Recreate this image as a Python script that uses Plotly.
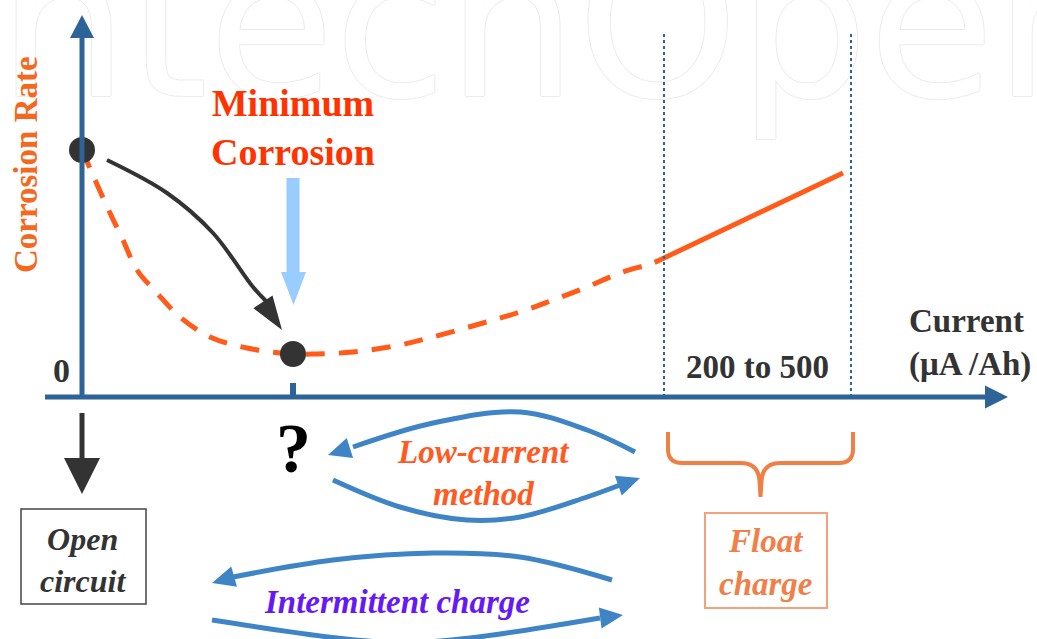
import numpy as np
import plotly.graph_objects as go

# ---------------- data (diagram units; origin = crossing of the two axes) ----------------
# corrosion-rate curve (dashed part) and float-charge segment (solid part)
curve_x = [0, 10, 28, 41, 55, 75, 98, 128, 165, 211, 235, 271, 318, 351, 401, 438, 471, 505, 538, 571, 582]
curve_y = [247, 224, 184, 157, 127, 104, 80, 60, 49, 43, 43, 45, 52, 60, 74, 85, 97, 110, 124, 134, 139]
float_x = [582, 761]
float_y = [139, 224]
# open-circuit state and minimum-corrosion state
state_x = [0, 211]
state_y = [247, 43]
# float charge current window (200 to 500 uA/Ah)
float_range = [582, 769]
min_current = 211

tick_labels = ["0", "?", "200 to 500"]
axis_titles = ["Corrosion Rate", "Current", "(μA /Ah)"]

# curved arrows: (points along the shaft, tip)
move_x = [25, 85, 131, 171, 185]
move_y = [237, 204, 164, 110, 95]
move_tip = (200, 67)

low_up_x = [553, 505, 438, 351, 271]
low_up_y = [-55, -33, -15, -26, -50]
low_up_tip = (246, -58)
low_dn_x = [251, 318, 385, 438, 505, 538]
low_dn_y = [-83, -110, -123, -120, -100, -88]
low_dn_tip = (558, -81)

int_up_x = [530, 438, 351, 251, 151]
int_up_y = [-183, -160, -156, -163, -180]
int_up_tip = (130, -186)
int_dn_x = [130, 255, 321, 388, 518]
int_dn_y = [-223, -241, -246, -241, -221]
int_dn_tip = (541, -218)

# ---------------- styles ----------------
AXIS = "#2e6397"
ORANGE = "#ff5b1a"
DARK = "#333333"
BLUE = "#3f85c6"
SERIF = "Liberation Serif, Times New Roman, DejaVu Serif, serif"


def head_path(tip, prev, length, half):
    t = np.array(tip, float)
    d = t - np.array(prev, float)
    d /= np.hypot(*d)
    b = t - d * length
    p = np.array([-d[1], d[0]])
    c1 = b + p * half
    c2 = b - p * half
    return f"M {t[0]},{t[1]} L {c1[0]},{c1[1]} L {c2[0]},{c2[1]} Z"


fig = go.Figure()

# faint watermark
fig.add_trace(go.Scatter(
    x=[449], y=[352], mode="text", text=["IntechOpen"],
    textposition="middle center",
    textfont=dict(family="DejaVu Sans", size=205, color="#ffffff",
                  shadow="1px 0 #ebebeb, -1px 0 #ebebeb, 0 1px #ebebeb, 0 -1px #ebebeb"),
    hoverinfo="skip"))

# dashed and solid parts of the corrosion curve
fig.add_trace(go.Scatter(x=curve_x, y=curve_y, mode="lines",
                         line=dict(color=ORANGE, width=5, dash="19px,14px", shape="spline", smoothing=1.0),
                         hoverinfo="skip"))
fig.add_trace(go.Scatter(x=float_x, y=float_y, mode="lines",
                         line=dict(color=ORANGE, width=5), hoverinfo="skip"))

# curved arrows
for xs, ys, col, w in [(move_x, move_y, DARK, 4),
                       (low_up_x, low_up_y, BLUE, 5), (low_dn_x, low_dn_y, BLUE, 5),
                       (int_up_x, int_up_y, BLUE, 5), (int_dn_x, int_dn_y, BLUE, 5)]:
    fig.add_trace(go.Scatter(x=xs, y=ys, mode="lines",
                             line=dict(color=col, width=w, shape="spline", smoothing=1.0),
                             hoverinfo="skip"))

# state points
fig.add_trace(go.Scatter(x=state_x, y=state_y, mode="markers",
                         marker=dict(size=26, color=DARK), hoverinfo="skip"))

shapes = []
# axes
shapes.append(dict(type="line", x0=-37, y0=0, x1=905, y1=0, line=dict(color=AXIS, width=5)))
shapes.append(dict(type="path", path=head_path((926, 0), (0, 0), 23, 11.5), fillcolor=AXIS, line=dict(width=0)))
shapes.append(dict(type="line", x0=0, y0=-2, x1=0, y1=361, line=dict(color=AXIS, width=5)))
shapes.append(dict(type="path", path=head_path((0, 382), (0, 0), 23, 12), fillcolor=AXIS, line=dict(width=0)))
# tick at minimum-corrosion current
shapes.append(dict(type="line", x0=min_current, y0=0, x1=min_current, y1=14, line=dict(color=AXIS, width=6)))
# dotted float window
for xv in float_range:
    shapes.append(dict(type="line", x0=xv, y0=0, x1=xv, y1=365, line=dict(color=AXIS, width=2, dash="dot")))
# light-blue pointer arrow
shapes.append(dict(type="rect", x0=min_current - 6.5, x1=min_current + 6.5, y0=124, y1=219,
                   fillcolor="#99ccff", line=dict(width=0)))
shapes.append(dict(type="path", path=head_path((min_current + 0.5, 92), (min_current + 0.5, 200), 33, 12.5),
                   fillcolor="#99ccff", line=dict(width=0)))
# arrow down to open circuit
shapes.append(dict(type="line", x0=0, y0=-16, x1=0, y1=-63, line=dict(color=DARK, width=5)))
shapes.append(dict(type="path", path=head_path((0, -97), (0, 0), 36, 18), fillcolor=DARK, line=dict(width=0)))
# curved arrow heads
shapes.append(dict(type="path", path=head_path(move_tip, (move_x[-2], move_y[-2]), 34, 11.5), fillcolor=DARK, line=dict(width=0)))
for tip, xs, ys in [(low_up_tip, low_up_x, low_up_y), (low_dn_tip, low_dn_x, low_dn_y),
                    (int_up_tip, int_up_x, int_up_y), (int_dn_tip, int_dn_x, int_dn_y)]:
    shapes.append(dict(type="path", path=head_path(tip, (xs[-1], ys[-1]), 23, 10.5), fillcolor=BLUE, line=dict(width=0)))
# brace under float window
L, R = float_range[0] + 4, float_range[1] + 2
C = (L + R) / 2
top, mid, tip = -35, -66, -100
brace = (f"M {L},{top} L {L},{mid + 14} Q {L},{mid} {L + 14},{mid} L {C - 20},{mid} "
         f"Q {C - 2},{mid} {C - 1},{mid - 18} L {C},{tip} "
         f"M {R},{top} L {R},{mid + 14} Q {R},{mid} {R - 14},{mid} L {C + 20},{mid} "
         f"Q {C + 2},{mid} {C + 1},{mid - 18} L {C},{tip}")
shapes.append(dict(type="path", path=brace, line=dict(color="#f07f45", width=4)))
# boxes
shapes.append(dict(type="rect", x0=-61, x1=64, y0=-112, y1=-207, line=dict(color="#444444", width=1.5)))
shapes.append(dict(type="rect", x0=623, x1=745, y0=-116, y1=-211, line=dict(color="#f4a27a", width=2)))

ann = []


def txt(x, y, s, size, color, **kw):
    ann.append(dict(x=x, y=y, text=s, showarrow=False, xanchor=kw.pop("xanchor", "center"),
                    yanchor="middle", font=dict(family=SERIF, size=size, color=color), **kw))


txt(-56, 232, f"<b>{axis_titles[0]}</b>", 33, "#f5691f", textangle=-90)
txt(-21, 27, f"<b>{tick_labels[0]}</b>", 34, DARK)
txt(211, 270, "<b>Minimum<br>Corrosion</b>", 38, "#ff3300")
txt(825, 54, f"<b>{axis_titles[1]}<br>{axis_titles[2]}</b>", 33, DARK, xanchor="left", align="left")
txt(675, 30, f"<b>{tick_labels[2]}</b>", 33, DARK)
txt(211, -51, f"<b>{tick_labels[1]}</b>", 70, "#000000")
txt(1, -163, "<b><i>Open<br>circuit</i></b>", 32, DARK)
txt(401, -55, "<b><i>Low-current</i></b>", 33, "#ff5a1f")
txt(401, -97, "<b><i>method</i></b>", 33, "#ff5a1f")
txt(315, -205, "<b><i>Intermittent charge</i></b>", 33, "#6618f5")
txt(684, -165, "<b><i>Float<br>charge</i></b>", 33, "#f08048")

fig.update_layout(
    width=1037, height=639, autosize=False,
    margin=dict(l=0, r=0, t=0, b=0),
    paper_bgcolor="white", plot_bgcolor="white",
    showlegend=False, hovermode=False,
    xaxis=dict(range=[-82, 955], visible=False, fixedrange=True),
    yaxis=dict(range=[-242, 397], visible=False, fixedrange=True),
    shapes=shapes, annotations=ann,
)

fig.write_html("out.html", config={"displayModeBar": False},
               post_script="document.body.style.margin='0';document.body.style.overflow='hidden';")
